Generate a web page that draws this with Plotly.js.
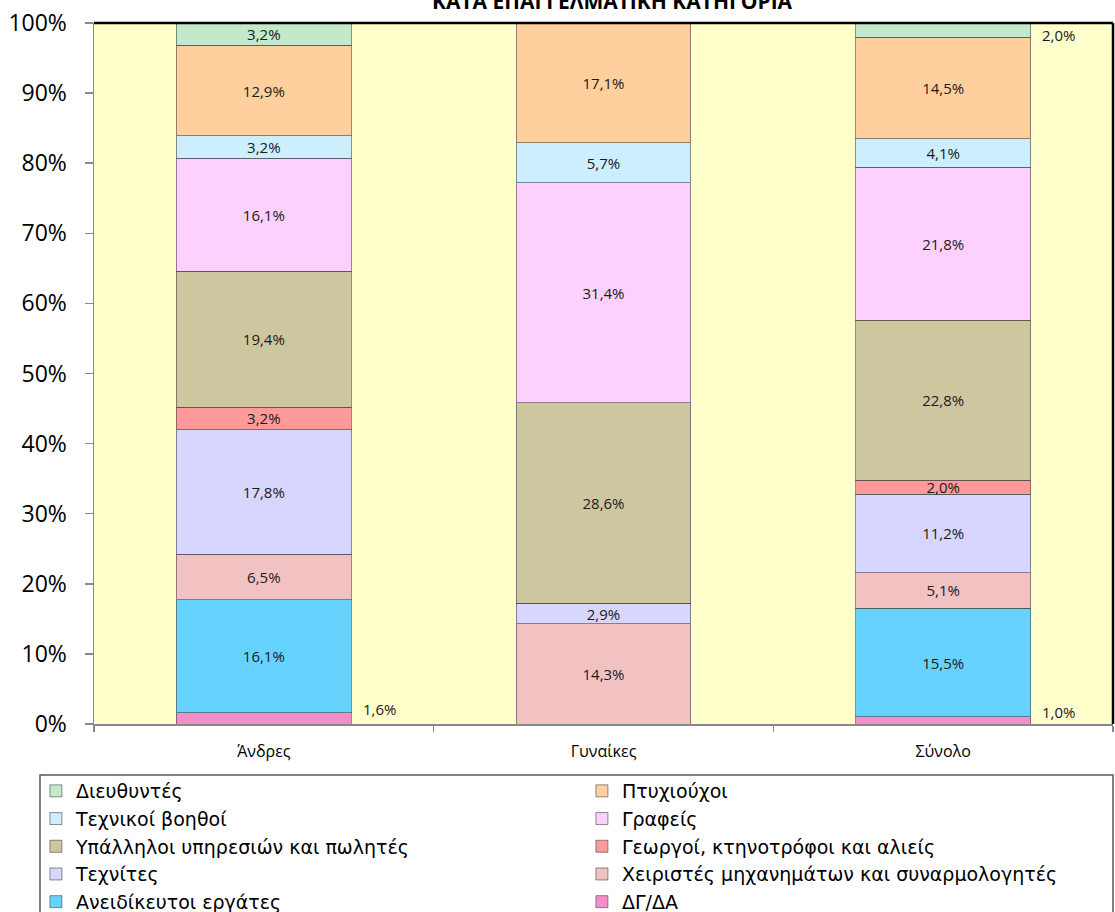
<!DOCTYPE html>
<html>
<head>
<meta charset="utf-8">
<script src="https://cdn.plot.ly/plotly-3.0.1.min.js"></script>
<style>
  html, body { margin: 0; padding: 0; background: #ffffff; }
  #chart { width: 1115px; height: 912px; }
</style>
</head>
<body>
<div id="chart"></div>
<script>
// Categories (x axis)
const categories = ['Άνδρες', 'Γυναίκες', 'Σύνολο'];

// Series, listed bottom of stack to top (values in %)
const seriesNames = [
  'ΔΓ/ΔΑ',
  'Ανειδίκευτοι εργάτες',
  'Χειριστές μηχανημάτων και συναρμολογητές',
  'Τεχνίτες',
  'Γεωργοί, κτηνοτρόφοι και αλιείς',
  'Υπάλληλοι υπηρεσιών και πωλητές',
  'Γραφείς',
  'Τεχνικοί βοηθοί',
  'Πτυχιούχοι',
  'Διευθυντές'
];
const dgda         = [1.6, 0, 1.0];
const aneidikeftoi = [16.1, 0, 15.5];
const cheiristes   = [6.5, 14.3, 5.1];
const technites    = [17.8, 2.9, 11.2];
const georgoi      = [3.2, 0, 2.0];
const ypalliloi    = [19.4, 28.6, 22.8];
const grafeis      = [16.1, 31.4, 21.8];
const technikoi    = [3.2, 5.7, 4.1];
const ptychiouchoi = [12.9, 17.1, 14.5];
const diefthyntes  = [3.2, 0, 2.0];
const seriesValues = [dgda, aneidikeftoi, cheiristes, technites, georgoi, ypalliloi, grafeis, technikoi, ptychiouchoi, diefthyntes];

const seriesColors = ['#F78DC7', '#66D3FF', '#F2C2C2', '#D6D6FF', '#FF9A9A', '#CDC7A0', '#FDD0FD', '#CDEEFD', '#FFCF9E', '#C3E9CB'];

const titleText = 'ΚΑΤΑ ΕΠΑΓΓΕΛΜΑΤΙΚΗ ΚΑΤΗΓΟΡΙΑ';

const FONT = 'Open Sans, Noto Sans, sans-serif';
const LEGEND_FONT = 'DejaVu Sans, Open Sans, sans-serif';
const fmt = v => v.toFixed(1).replace('.', ',') + '%';
const SMALL = 2.5; // thin end-of-stack segments get their label outside, to the right
const lastIdx = seriesValues.length - 1;

const isOutside = (i, v) => v > 0 && v < SMALL && (i === 0 || i === lastIdx);

const traces = seriesNames.map((name, i) => ({
  type: 'bar',
  name: name,
  x: categories,
  y: seriesValues[i],
  text: seriesValues[i].map(v => (v > 0 && !isOutside(i, v) ? fmt(v) : '')),
  textposition: 'inside',
  insidetextanchor: 'middle',
  constraintext: 'none',
  textfont: { family: FONT, size: 15, color: '#1a1a1a' },
  textangle: 0,
  marker: { color: seriesColors[i], line: { color: 'rgba(70,70,70,0.6)', width: 1 } },
  hoverinfo: 'name+y'
}));

// Outside labels for the thin end segments
const annotations = [];
const cum = categories.map(() => 0);
seriesValues.forEach((vals, i) => {
  vals.forEach((v, j) => {
    const base = cum[j];
    cum[j] += v;
    if (isOutside(i, v)) {
      const center = base + v / 2;
      annotations.push({
        x: categories[j], y: center, xref: 'x', yref: 'y',
        text: fmt(v), showarrow: false, xanchor: 'left', yanchor: 'middle',
        xshift: 97, yshift: center < 50 ? 9 : -5,
        font: { family: FONT, size: 15, color: '#1a1a1a' }
      });
    }
  });
});
annotations.push({
  x: 0.509, y: 1.031, xref: 'paper', yref: 'paper', text: '<b>' + titleText + '</b>',
  showarrow: false, xanchor: 'center', yanchor: 'middle',
  font: { family: FONT, size: 21, color: '#000' }
});

const layout = {
  width: 1115, height: 912,
  margin: { l: 94, r: 2, t: 23, b: 188, pad: 0, autoexpand: false },
  paper_bgcolor: '#ffffff',
  plot_bgcolor: '#FFFFCC',
  barmode: 'stack',
  bargap: 0.485,
  showlegend: true,
  font: { family: FONT, color: '#000' },
  xaxis: {
    type: 'category',
    showgrid: false,
    showline: true, linecolor: '#888888', linewidth: 1.5,
    ticks: 'outside', tickson: 'boundaries', ticklen: 6, tickcolor: '#888888', tickwidth: 1.5,
    ticklabelstandoff: 12,
    tickfont: { family: FONT, size: 16, color: '#000' },
    zeroline: false
  },
  yaxis: {
    range: [0, 100],
    dtick: 10,
    ticksuffix: '%',
    showgrid: false,
    showline: true, linecolor: '#888888', linewidth: 1.5,
    ticks: 'outside', ticklen: 8, tickcolor: '#888888', tickwidth: 1.5,
    ticklabelstandoff: 13,
    tickfont: { family: FONT, size: 23, color: '#000' },
    zeroline: false
  },
  legend: {
    orientation: 'h',
    traceorder: 'reversed',
    x: -0.057, xanchor: 'left',
    y: -0.0685, yanchor: 'top',
    entrywidth: 501, entrywidthmode: 'pixels',
    font: { family: LEGEND_FONT, size: 19, color: '#000' },
    bgcolor: 'rgba(0,0,0,0)',
    borderwidth: 0
  },
  shapes: [
    // top and right black frame of the plot area
    { type: 'line', xref: 'paper', yref: 'paper', x0: 0, x1: 1, y0: 1, y1: 1, line: { color: '#000', width: 2.5 } },
    { type: 'line', xref: 'paper', yref: 'paper', x0: 1, x1: 1, y0: 0, y1: 1, line: { color: '#000', width: 2.5 } },
    // legend frame
    { type: 'rect', xref: 'paper', yref: 'paper', x0: -0.053, x1: 1.0, y0: -0.0728, y1: -0.35, line: { color: '#595959', width: 1.5 }, fillcolor: 'rgba(0,0,0,0)' }
  ],
  annotations: annotations
};

Plotly.newPlot('chart', traces, layout, { displayModeBar: false, staticPlot: true });
</script>
</body>
</html>
